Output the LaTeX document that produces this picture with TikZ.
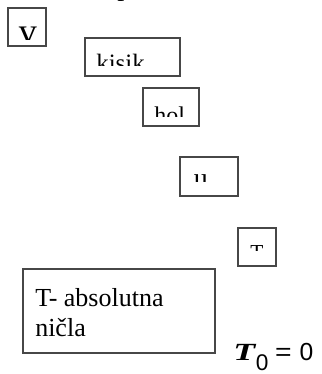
\documentclass[tikz,border=0pt]{standalone}
\usepackage{fontspec}
\setmainfont{Liberation Serif}
\newfontfamily\lsans{Liberation Sans}
\begin{document}
\begin{tikzpicture}[x=0.75pt,y=-0.75pt,
  frame/.style={draw=black!72, line width=0.8pt, inner sep=0pt},
  frag/.style={inner sep=0pt, anchor=base west}]
\useasboundingbox (0,0) rectangle (321,374);

% cut-off glyph at the very top
\node[frag, font=\fontsize{21}{24}\selectfont] (top) at (117,-4) {p};

% box v
\node[frame, minimum width=28.5pt, minimum height=28.5pt] (v) at (27,27) {};
\begin{scope}
  \clip (8,8) rectangle (46,40);
  \node[frag, font=\fontsize{27}{30}\selectfont] (vt) at (18.5,43.5) {v};
\end{scope}

% box kisik
\node[frame, minimum width=71.25pt, minimum height=28.5pt] (kisik) at (132.5,57) {};
\begin{scope}
  \clip (85,38) rectangle (180,66);
  \node[frag, font=\fontsize{18.75}{22}\selectfont] (kisikt) at (96,72) {kisik};
\end{scope}

% box hol
\node[frame, minimum width=42pt, minimum height=28.5pt] (hol) at (171,107) {};
\begin{scope}
  \clip (143,88) rectangle (199,117);
  \node[frag, font=\fontsize{18}{21}\selectfont] (holt) at (154,123) {hol};
\end{scope}

% box u
\node[frame, minimum width=43.5pt, minimum height=29.25pt] (u) at (209,176.5) {};
\begin{scope}
  \clip (180,157) rectangle (238,181);
  \node[frag, font=\fontsize{21}{24}\selectfont] (ut) at (193.5,187) {u};
\end{scope}

% box T
\node[frame, minimum width=28.5pt, minimum height=28.5pt] (T) at (257,247) {};
\begin{scope}
  \clip (238,228) rectangle (276,250);
  \node[frag, font=\fontsize{16}{19}\selectfont] (Tt) at (250,259) {T};
\end{scope}

% big box
\node[frame, minimum width=144pt, minimum height=63pt] (abs) at (119,311) {};
\node[inner sep=0pt, anchor=base west, align=left,
      font=\fontsize{19.5}{22.5}\selectfont] (abst) at (35,336) {T- absolutna\\ničla};

% formula
\node[frag] (eq) at (233,360)
  {\scalebox{1.45}[1]{\fontsize{18.5}{22}\selectfont\bfseries\itshape T}\hspace{0.5pt}%
   \raisebox{-7.5pt}{\lsans\fontsize{17}{20}\selectfont 0}\hspace{5pt}%
   {\lsans\fontsize{18.5}{21}\selectfont\scalebox{1.15}[1]{=}\hspace{6pt}0}};
\end{tikzpicture}
\end{document}
